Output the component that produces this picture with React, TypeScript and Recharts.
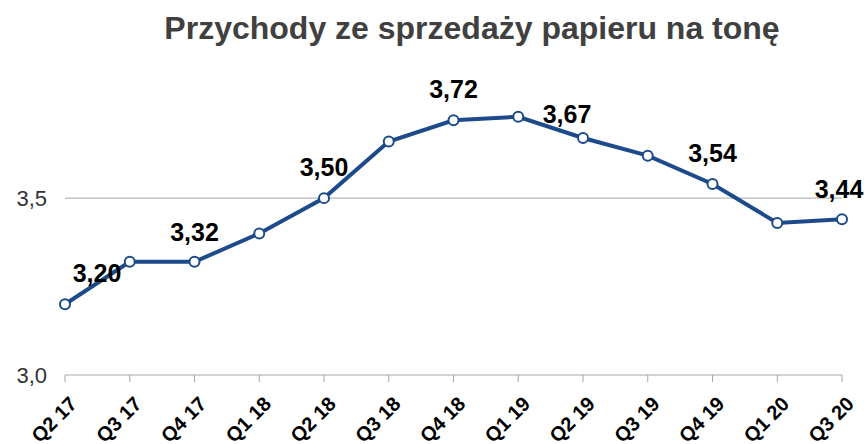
import React from "react";
import { CartesianGrid, LabelList, Line, LineChart, XAxis, YAxis } from "recharts";

const quarters = [
  "Q2 17", "Q3 17", "Q4 17", "Q1 18", "Q2 18", "Q3 18", "Q4 18",
  "Q1 19", "Q2 19", "Q3 19", "Q4 19", "Q1 20", "Q3 20",
];
const revenuePerTon = [3.2, 3.32, 3.32, 3.4, 3.5, 3.66, 3.72, 3.73, 3.67, 3.62, 3.54, 3.43, 3.44];
const yTicks = [3.0, 3.5];

const data = quarters.map((q, i) => ({ q, v: revenuePerTon[i] }));

const BLUE = "#1d4a8a";
const FONT = "'Liberation Sans', Arial, sans-serif";

// label nudges, [dx, dy] from the point
const labelShift: Record<number, [number, number]> = {
  0: [32, -22],
  2: [0, -21],
  4: [0, -22],
  6: [0, -22],
  8: [-16, -15],
  10: [0, -22],
  12: [-3, -21],
};

const fmt = (v: number, d: number) => v.toFixed(d).replace(".", ",");

function PointLabel(props: any) {
  const { x, y, value, index } = props;
  const shift = labelShift[index];
  if (!shift) return null;
  return (
    <text
      x={x + shift[0]}
      y={y + shift[1]}
      textAnchor="middle"
      fontFamily={FONT}
      fontWeight="bold"
      fontSize={25}
      fill="#000"
    >
      {fmt(value, 2)}
    </text>
  );
}

function QuarterTick(props: any) {
  const { x, y, payload } = props;
  const ax = x + 3;
  const ay = y + 11;
  return (
    <text
      x={ax}
      y={ay}
      dy="0.72em"
      textAnchor="end"
      transform={`rotate(-45, ${ax}, ${ay})`}
      fontFamily={FONT}
      fontWeight="bold"
      fontSize={20}
      fill="#000"
    >
      {payload.value}
    </text>
  );
}

export default function App() {
  return (
    <div style={{ position: "absolute", left: 0, top: 0, width: 868, height: 444, background: "#fff" }}>
      <div
        style={{
          position: "absolute",
          left: 0,
          width: 944,
          top: 10,
          textAlign: "center",
          fontFamily: FONT,
          fontWeight: "bold",
          fontSize: 32,
          color: "#404040",
          lineHeight: "36px",
        }}
      >
        Przychody ze sprzedaży papieru na tonę
      </div>
      <LineChart width={868} height={444} data={data} margin={{ top: 92, right: 26, bottom: 0, left: 0 }}>
        <CartesianGrid vertical={false} stroke="#a6a6a6" horizontalValues={[3.5]} />
        <XAxis
          dataKey="q"
          height={69}
          interval={0}
          stroke="#a6a6a6"
          tickSize={7}
          tick={<QuarterTick />}
        />
        <YAxis
          width={65}
          domain={[3, 3.8]}
          ticks={yTicks}
          axisLine={false}
          tickLine={false}
          tickSize={0}
          tickMargin={18}
          tickFormatter={(v: number) => fmt(v, 1)}
          tick={{ fontFamily: FONT, fontSize: 22, fill: "#333" }}
        />
        <Line
          dataKey="v"
          stroke={BLUE}
          strokeWidth={4}
          dot={{ r: 5, fill: "#fff", stroke: BLUE, strokeWidth: 2 }}
          isAnimationActive={false}
        >
          <LabelList dataKey="v" content={<PointLabel />} />
        </Line>
      </LineChart>
    </div>
  );
}
